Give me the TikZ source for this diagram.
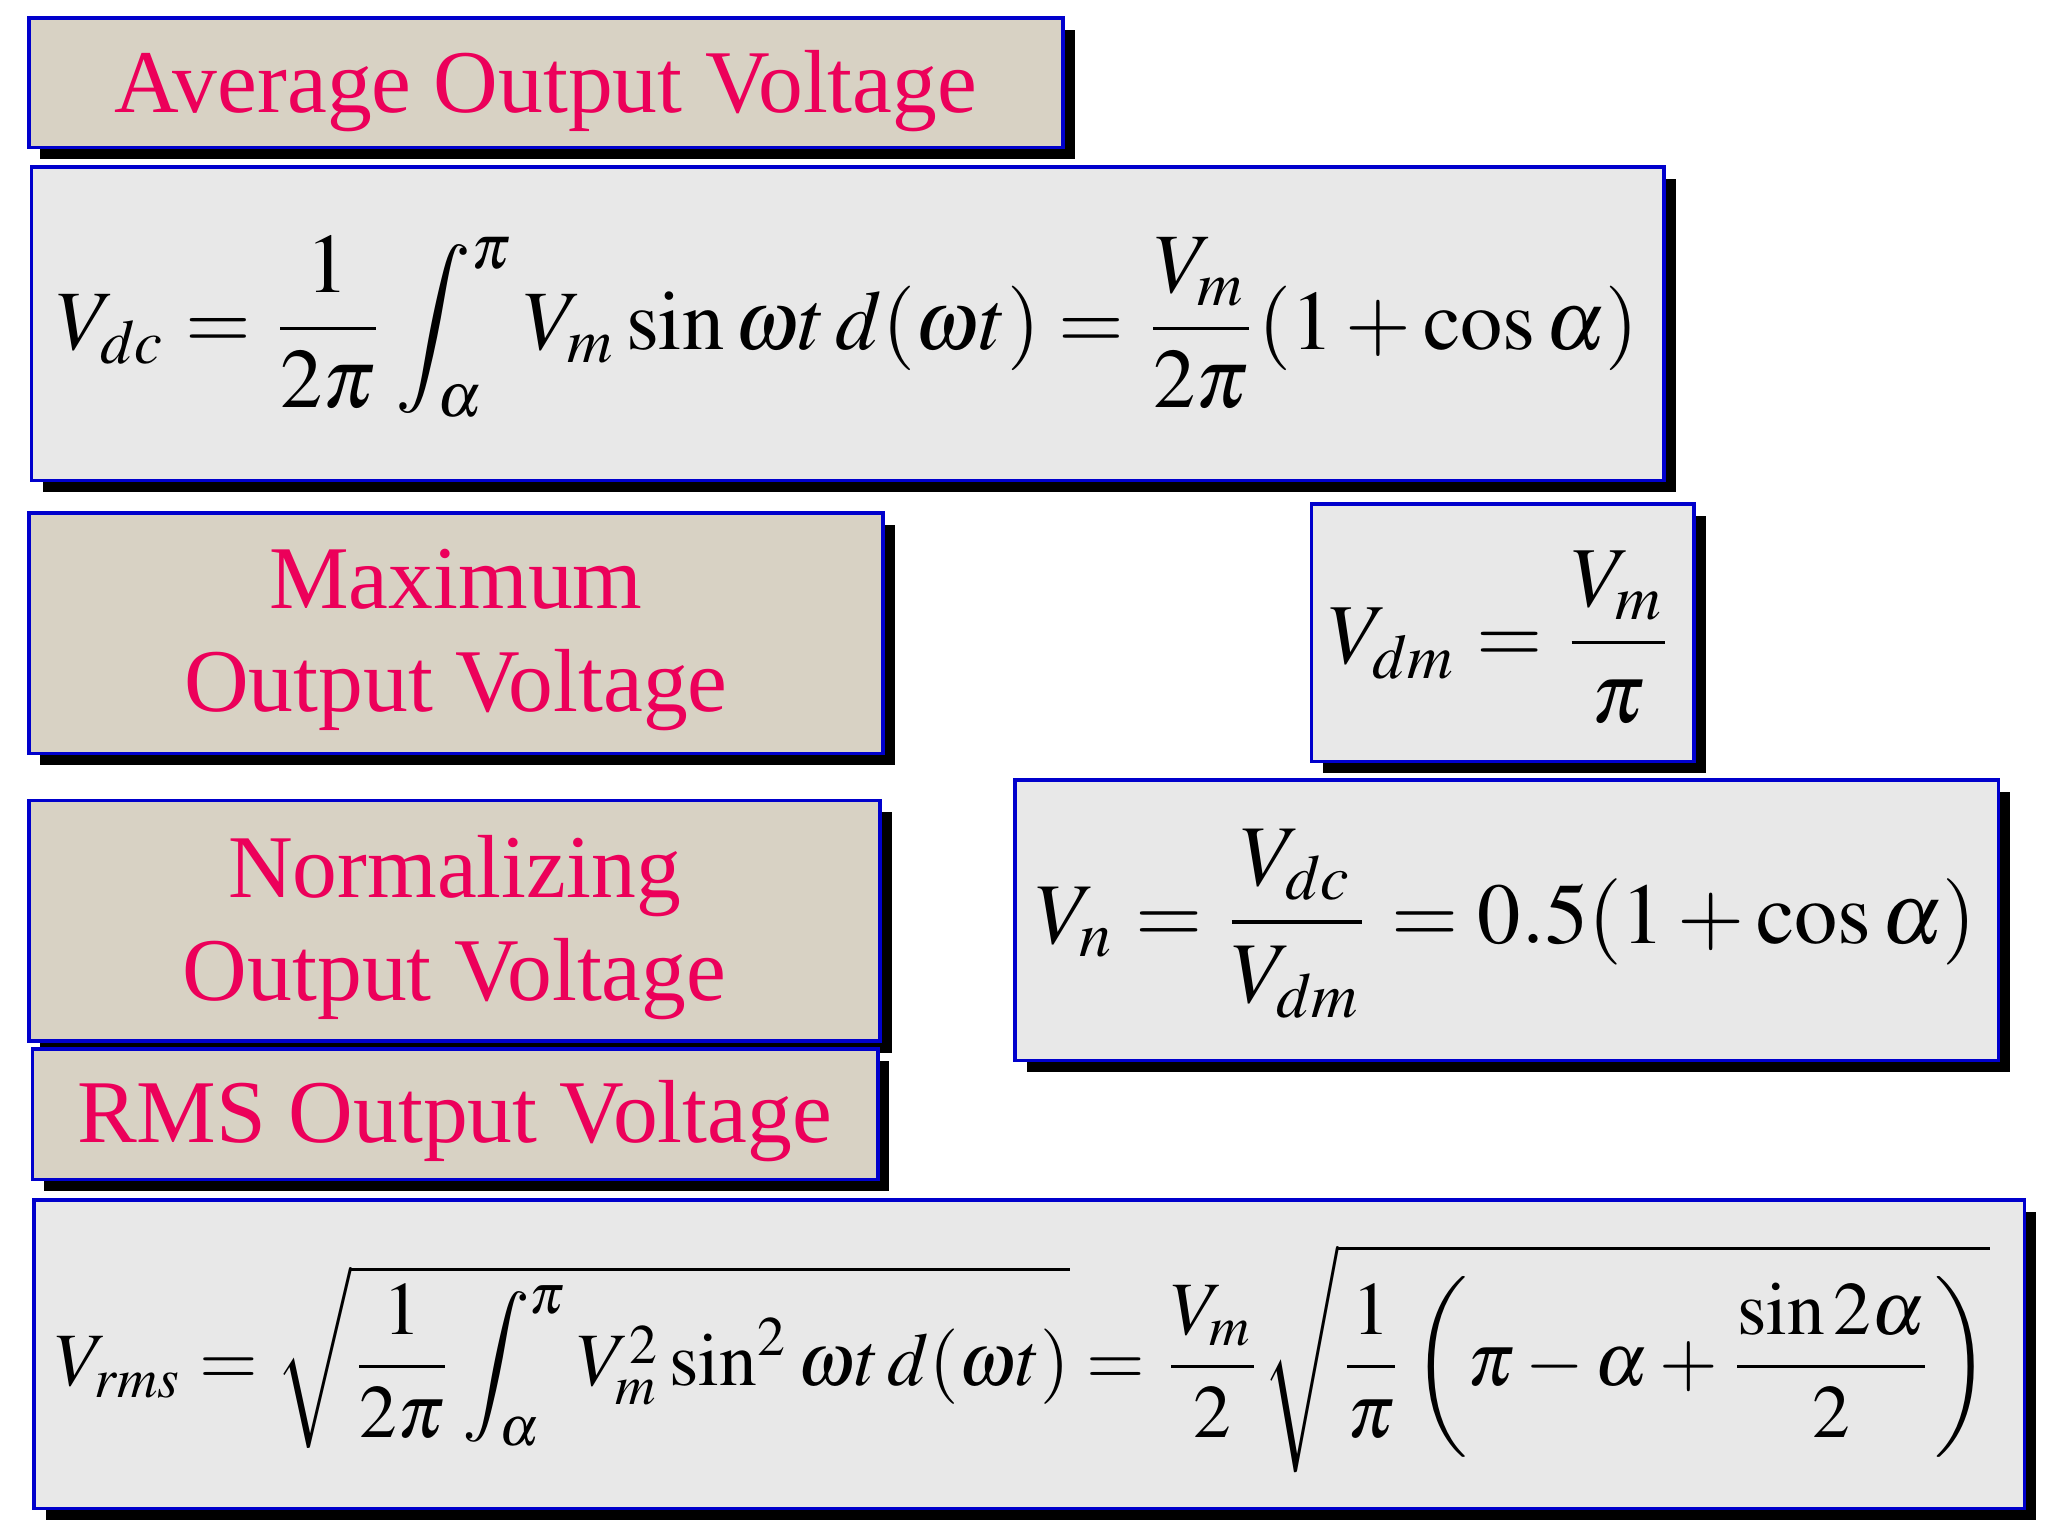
\documentclass[tikz,border=0pt]{standalone}
\usepackage{amsmath}
\usepackage{mathptmx}
\usepackage{fontspec}
\setmainfont{Liberation Serif}
\begin{document}
\begin{tikzpicture}[x=0.01cm,y=-0.01cm,
  shad/.style={fill=black},
  tbox/.style={fill=tanbg,draw=blue!80!black,line width=0.8pt},
  fbox/.style={fill=graybg,draw=blue!80!black,line width=0.8pt},
  ttext/.style={text=pinkc,font=\fontsize{19.5}{22.5}\selectfont,align=center},
  ftext/.style={}]
\definecolor{tanbg}{RGB}{216,210,196}
\definecolor{graybg}{RGB}{232,232,232}
\definecolor{pinkc}{RGB}{236,0,90}
\useasboundingbox (0,0) rectangle (1568,1176);
\fill[white] (0,0) rectangle (1568,1176);
\newcommand{\myshbox}[5]{%
  \fill[shad] (#1+9,#2+9) rectangle (#3+9,#4+9);
  \draw[#5] (#1,#2) rectangle (#3,#4);}
\myshbox{22}{14}{814}{113}{tbox}
\myshbox{24}{128}{1274}{368}{fbox}
\myshbox{22}{393}{676}{577}{tbox}
\myshbox{1004}{386}{1297}{583}{fbox}
\myshbox{22}{613}{674}{797}{tbox}
\myshbox{777}{597}{1530}{812}{fbox}
\myshbox{25}{803}{672}{903}{tbox}
\myshbox{26}{919}{1550}{1155}{fbox}
\node[ttext] (t1) at (418,70) {Average Output Voltage};
\node[ttext] (t2) at (349,490) {Maximum\\Output Voltage};
\node[ttext] (t3) at (348,710) {Normalizing\\Output Voltage};
\node[ttext] (t4) at (348,858) {RMS Output Voltage};
\node[ftext] (f1) at (649,250) {\resizebox{12.1cm}{!}{$\displaystyle V_{dc}=\frac{1}{2\pi}\int_{\alpha}^{\pi}V_m\sin\omega t\,d(\omega t)=\frac{V_m}{2\pi}(1+\cos\alpha)$}};
\node[ftext] (f2) at (1150,488) {\resizebox{2.65cm}{!}{$\displaystyle V_{dm}=\frac{V_m}{\pi}$}};
\node[ftext] (f3) at (1153,707) {\resizebox{7.2cm}{!}{$\displaystyle V_{n}=\frac{V_{dc}}{V_{dm}}=0.5(1+\cos\alpha)$}};
\node[ftext] (f4) at (783,1040) {\resizebox{14.8cm}{!}{$\displaystyle V_{rms}=\sqrt{\frac{1}{2\pi}\int_{\alpha}^{\pi}V_m^2\sin^2\omega t\,d(\omega t)}=\frac{V_m}{2}\sqrt{\frac{1}{\pi}\left(\pi-\alpha+\frac{\sin 2\alpha}{2}\right)}$}};
\end{tikzpicture}
\end{document}
